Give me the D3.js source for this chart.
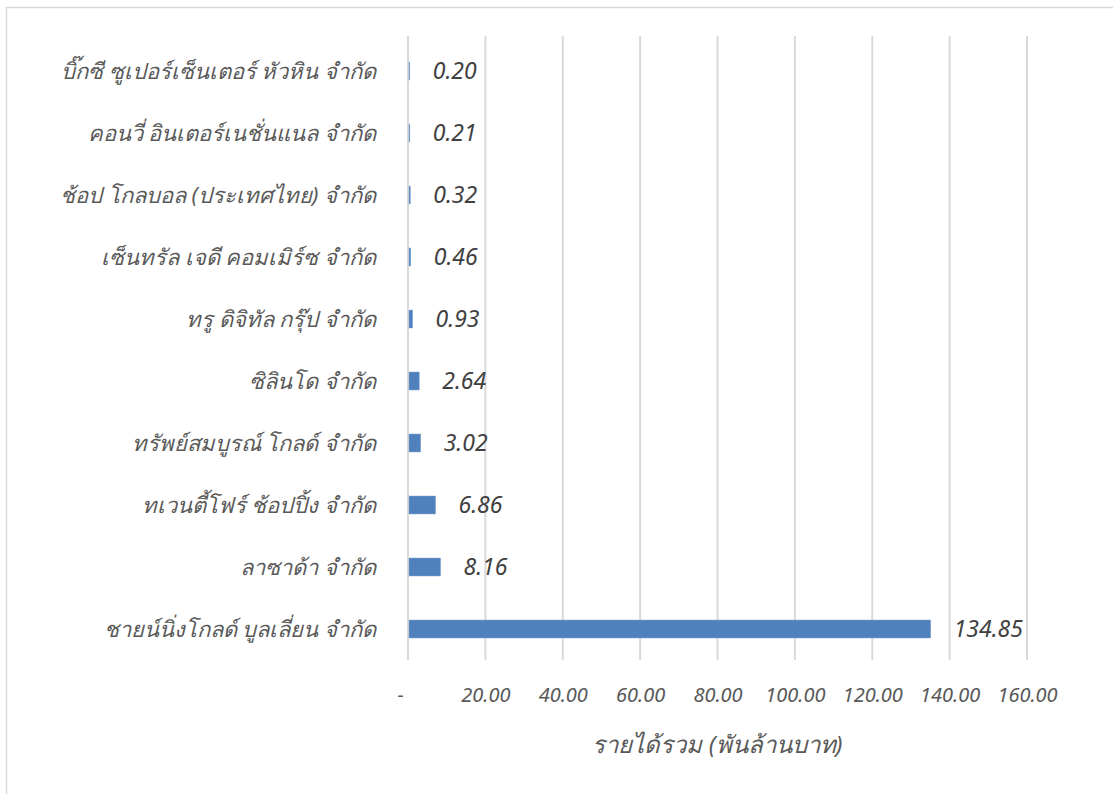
<!DOCTYPE html>
<html>
<head>
<meta charset="utf-8">
<script src="https://cdn.jsdelivr.net/npm/d3@7"></script>
<style>
  html, body { margin: 0; padding: 0; background: #fff; }
  svg { display: block; }
  text { font-family: "Noto Sans", "Liberation Sans", sans-serif; font-style: italic; fill: #595959; }
</style>
</head>
<body>
<svg id="chart" width="1113" height="794"></svg>
<script>
const categories = [
  "บิ๊กซี ซูเปอร์เซ็นเตอร์ หัวหิน จำกัด",
  "คอนวี่ อินเตอร์เนชั่นแนล จำกัด",
  "ช้อป โกลบอล (ประเทศไทย) จำกัด",
  "เซ็นทรัล เจดี คอมเมิร์ซ จำกัด",
  "ทรู ดิจิทัล กรุ๊ป จำกัด",
  "ซิลินโด จำกัด",
  "ทรัพย์สมบูรณ์ โกลด์ จำกัด",
  "ทเวนตี้โฟร์ ช้อปปิ้ง จำกัด",
  "ลาซาด้า จำกัด",
  "ชายน์นิ่งโกลด์ บูลเลี่ยน จำกัด"
];
const values = [0.20, 0.21, 0.32, 0.46, 0.93, 2.64, 3.02, 6.86, 8.16, 134.85];
const tickValues = [0, 20, 40, 60, 80, 100, 120, 140, 160];
const axisTitle = "รายได้รวม (พันล้านบาท)";

const svg = d3.select("#chart");
const mLeft = 408, mRight = 1027, mTop = 40, mBottom = 660;

// outer frame
svg.append("rect").attr("x", 6.5).attr("y", 7.5).attr("width", 1120).attr("height", 800)
  .attr("fill", "none").attr("stroke", "#d9d9d9").attr("stroke-width", 1.5);

const x = d3.scaleLinear().domain([0, 160]).range([mLeft, mRight]);
const y = d3.scaleBand().domain(categories).range([mTop, mBottom]).paddingInner(0.71).paddingOuter(0.355);

// gridlines
svg.append("g").selectAll("line").data(tickValues).join("line")
  .attr("x1", d => x(d)).attr("x2", d => x(d))
  .attr("y1", 36).attr("y2", mBottom)
  .attr("stroke", "#d9d9d9").attr("stroke-width", 2);

// bars
svg.append("g").selectAll("rect").data(values).join("rect")
  .attr("x", x(0) + 1)
  .attr("y", (d, i) => y(categories[i]))
  .attr("width", d => Math.max(0.6, x(d) - x(0)))
  .attr("height", y.bandwidth())
  .attr("fill", "#4f81bd")
  .attr("stroke", "#7fa3d0").attr("stroke-width", 0.5);

// value labels
svg.append("g").selectAll("text").data(values).join("text")
  .attr("x", d => x(d) + 24)
  .attr("y", (d, i) => y(categories[i]) + y.bandwidth() / 2)
  .attr("dy", "0.36em")
  .attr("font-size", 23)
  .style("fill", "#404040")
  .text(d => d.toFixed(2));

// category labels
svg.append("g").selectAll("text").data(categories).join("text")
  .attr("x", 376)
  .attr("y", d => y(d) + y.bandwidth() / 2)
  .attr("dy", "0.36em")
  .attr("text-anchor", "end")
  .attr("font-size", 22)
  .text(d => d);

// x axis tick labels
const xAxis = d3.axisBottom(x).tickValues(tickValues).tickSize(0)
  .tickFormat(d => d === 0 ? "-" : d.toFixed(2));
const gx = svg.append("g").attr("transform", `translate(0, ${mBottom + 25})`).call(xAxis);
gx.select(".domain").remove();
gx.selectAll("text")
  .attr("font-size", 20)
  .style("font-family", "\"Noto Sans\", \"Liberation Sans\", sans-serif")
  .style("font-style", "italic")
  .style("fill", "#595959")
  .attr("dx", d => d === 0 ? -8 : 0);

// axis title
svg.append("text")
  .attr("x", (mLeft + mRight) / 2)
  .attr("y", 753)
  .attr("text-anchor", "middle")
  .attr("font-size", 24)
  .text(axisTitle);
</script>
</body>
</html>
